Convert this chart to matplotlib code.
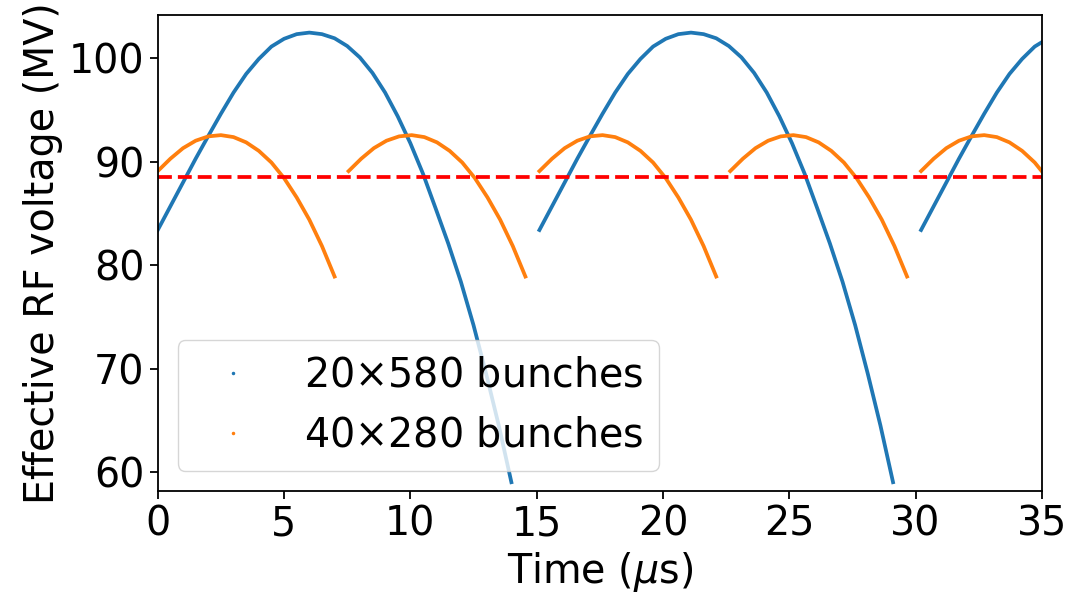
import numpy as np
import matplotlib
matplotlib.use("Agg")
import matplotlib.pyplot as plt
from matplotlib.lines import Line2D

# ===== data =====
# one arc of each series: time offset from arc start (us) and voltage (MV)
blue_dt = [0.0, 0.5, 1.0, 1.5, 2.0, 2.5, 3.0, 3.5, 4.0, 4.5, 5.0, 5.5, 6.0,
           6.5, 7.0, 7.5, 8.0, 8.5, 9.0, 9.5, 10.0, 10.5, 11.0, 11.5, 12.0,
           12.5, 13.0, 13.5, 14.0]
blue_v = [83.4, 85.7, 88.0, 90.3, 92.5, 94.65, 96.7, 98.5, 99.95, 101.15, 101.9, 102.35, 102.5,
          102.35, 101.95, 101.2, 100.1, 98.6, 96.7, 94.4, 91.8, 88.85, 85.5, 82.1, 78.4,
          74.2, 69.5, 64.5, 59.0]
blue_starts = [0.0, 15.11, 30.22]

orange_dt = [0.0, 0.5, 1.0, 1.5, 2.0, 2.5, 3.0, 3.5, 4.0, 4.5, 5.0, 5.5, 6.0, 6.5, 7.0]
orange_v = [89.1, 90.3, 91.32, 92.04, 92.46, 92.58, 92.39, 91.88, 91.06, 89.93, 88.42,
            86.55, 84.4, 81.85, 78.9]
orange_starts = [0.0, 7.555, 15.11, 22.665, 30.22]

v_threshold = 88.55
labels = [r"20$\times$580 bunches", r"40$\times$280 bunches"]

# ===== plot =====
plt.rcParams["font.size"] = 28.5
blue, orange = "#1f77b4", "#ff7f0e"

fig = plt.figure(figsize=(10.66, 5.94), dpi=100)
ax = fig.add_axes([0.148, 0.1734, 0.8293, 0.8013])

for t0 in blue_starts:
    ax.plot(np.array(blue_dt) + t0, blue_v, color=blue, lw=2.7, solid_joinstyle="round")
for t0 in orange_starts:
    ax.plot(np.array(orange_dt) + t0, orange_v, color=orange, lw=2.7, solid_joinstyle="round")

ax.axhline(v_threshold, color="red", ls="--", lw=2.7)

ax.set_xlim(0, 35)
ax.set_ylim(58.15, 104.2)
ax.set_xticks([0, 5, 10, 15, 20, 25, 30, 35])
ax.set_yticks([60, 70, 80, 90, 100])
ax.tick_params(length=6, width=1.3)
for s in ax.spines.values():
    s.set_linewidth(1.3)

ax.set_xlabel(r"Time ($\mu$s)", labelpad=4)
ax.set_ylabel("Effective RF voltage (MV)")

handles = [Line2D([], [], ls="", marker=".", markersize=3, color=blue),
           Line2D([], [], ls="", marker=".", markersize=3, color=orange)]
ax.legend(handles, labels, loc="lower left")

fig.savefig("out.png", dpi=100)
